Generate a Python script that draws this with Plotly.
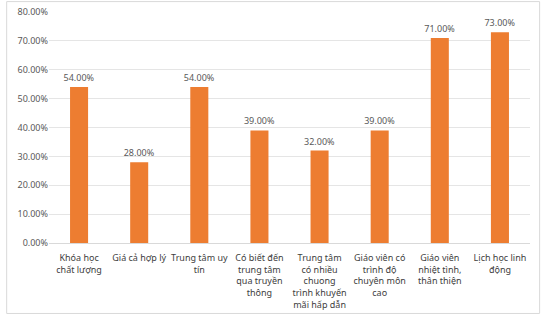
import plotly.graph_objects as go

categories = [
    "Khóa học<br>chất lượng",
    "Giá cả hợp lý",
    "Trung tâm uy<br>tín",
    "Có biết đến<br>trung tâm<br>qua truyền<br>thông",
    "Trung tâm<br>có nhiều<br>chuong<br>trình khuyến<br>mãi hấp dẫn",
    "Giáo viên có<br>trình độ<br>chuyên môn<br>cao",
    "Giáo viên<br>nhiệt tình,<br>thân thiện",
    "Lịch học linh<br>động",
]
values = [0.54, 0.28, 0.54, 0.39, 0.32, 0.39, 0.71, 0.73]
y_ticks = [0, 0.1, 0.2, 0.3, 0.4, 0.5, 0.6, 0.7, 0.8]
y_tick_labels = ["0.00%", "10.00%", "20.00%", "30.00%", "40.00%", "50.00%", "60.00%", "70.00%", "80.00%"]

FONT = "Noto Sans, Open Sans, sans-serif"

fig = go.Figure(go.Bar(
    x=list(range(len(categories))),
    y=values,
    marker=dict(color="#ED7D31", line=dict(width=0)),
    text=[f"{v*100:.2f}%" for v in values],
    textposition="outside",
    constraintext="none",
    textfont=dict(size=9, color="#595959", family=FONT),
    cliponaxis=False,
))

fig.update_layout(
    width=545, height=314,
    margin=dict(l=49, r=15, t=12, b=71),
    paper_bgcolor="white", plot_bgcolor="white",
    bargap=0.7,
    showlegend=False,
    font=dict(family=FONT, color="#595959"),
    xaxis=dict(
        tickmode="array", tickvals=list(range(len(categories))), ticktext=categories,
        tickangle=0, tickfont=dict(size=9, color="#404040", family=FONT),
        ticklabelstandoff=6, automargin=False,
        showgrid=False, zeroline=False,
        showline=True, linecolor="#D9D9D9", linewidth=1,
        ticks="", range=[-0.5, len(categories) - 0.5],
    ),
    yaxis=dict(
        range=[0, 0.8], tickmode="array", tickvals=y_ticks, ticktext=y_tick_labels,
        tickfont=dict(size=9, color="#595959", family=FONT),
        automargin=False,
        showgrid=True, gridcolor="#E5E5E5", gridwidth=1,
        zeroline=False, ticks="", showline=False,
    ),
    shapes=[dict(type="rect", xref="paper", yref="paper",
                 x0=-0.088, x1=1.02, y0=-0.305, y1=1.045,
                 line=dict(color="#D9D9D9", width=1))],
)

fig.write_html("out.html")
